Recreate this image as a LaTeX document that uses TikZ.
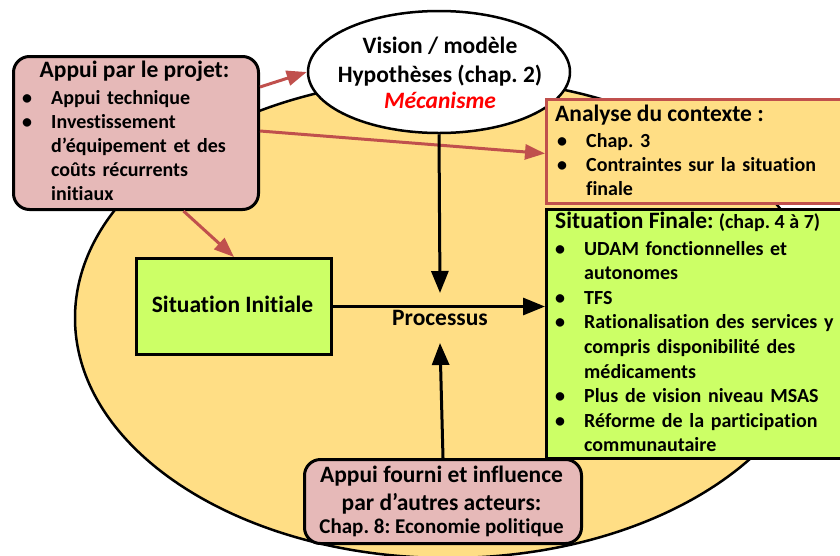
\documentclass[tikz,border=0pt]{standalone}
\usepackage{fontspec}
\setmainfont{Carlito}[Ligatures=NoCommon]
\frenchspacing
\usetikzlibrary{shapes.geometric,arrows.meta,calc}
\definecolor{sand}{HTML}{FFDE85}
\definecolor{rose}{HTML}{E6B9B8}
\definecolor{lime}{HTML}{CCFF66}
\definecolor{brick}{HTML}{C0504D}
% bullet and hanging indent for the lists
\newcommand\bul{\makebox[29pt][l]{•}}
\newcommand\ind{\hspace*{29pt}}

\begin{document}
\begin{tikzpicture}[x=1pt,y=-1pt,
  box/.style={draw=black, line width=3pt, inner sep=0pt, anchor=north west},
  ttl/.style={font=\fontsize{23.5}{28}\selectfont\bfseries, inner sep=0pt},
  lst/.style={font=\fontsize{20}{#1}\selectfont\bfseries, anchor=base west,
              align=left, text width=300pt, inner sep=0pt},
  lst/.default=24,
  redarrow/.style={draw=brick, line width=3pt, -{Triangle[length=20pt,width=15pt]}},
  blkarrow/.style={draw=black, line width=3pt, -{Triangle[length=22pt,width=17pt]}},
]
\useasboundingbox (0,0) rectangle (840,555);
\clip (0,0) rectangle (840,555);

% the surrounding field
\node[ellipse, draw, line width=2.5pt, fill=sand, inner sep=0pt,
      minimum width=746pt, minimum height=480pt] (field) at (448,318) {};

% vision / hypotheses
\node[ellipse, draw, line width=2.5pt, fill=white, inner sep=0pt,
      minimum width=262pt, minimum height=122pt] (vision) at (439,72) {};
\node[ttl, anchor=base] (vis1) at (440,53) {Vision / modèle};
\node[ttl, anchor=base] (vis2) at (440,82) {Hypothèses (chap. 2)};
\node[ttl, anchor=base, text=red] (vis3) at (440,108) {\itshape Mécanisme};

% project support
\node[box, fill=rose, rounded corners=16pt, minimum width=245pt, minimum height=153pt] (appui) at (12,55) {};
\node[ttl, anchor=base] (appuiT) at (134.5,77) {Appui par le projet:};
\node[lst] (appuiL) at (22,104) {\bul Appui technique\\\bul Investissement\\\ind d’équipement et des\\\ind coûts récurrents\\\ind initiaux};

% context analysis
\node[box, draw=brick, fill=sand, minimum width=310pt, minimum height=104pt] (analyse) at (545,98) {};
\node[ttl, anchor=base west] (analyseT) at (555,121) {Analyse du contexte :};
\node[lst] (analyseL) at (557,147) {\bul Chap. 3\\\bul Contraintes sur la situation\\\ind finale};

% final situation
\node[box, fill=lime, minimum width=310pt, minimum height=249pt] (final) at (545,208) {};
\node[ttl, anchor=base west] (finalT) at (555,228) {Situation Finale: {\fontsize{20}{24}\selectfont(chap. 4 à 7)}};
\node[lst=24.6] (finalL) at (555,255) {\bul UDAM fonctionnelles et\\\ind autonomes\\\bul TFS\\\bul Rationalisation des services y\\\ind compris disponibilité des\\\ind médicaments\\\bul Plus de vision niveau MSAS\\\bul Réforme de la participation\\\ind communautaire};

% initial situation
\node[box, fill=lime, minimum width=195pt, minimum height=96pt] (init) at (135,257) {};
\node[ttl, anchor=base] (initT) at (232.5,312) {Situation Initiale};

% other actors
\node[box, fill=rose, rounded corners=16pt, minimum width=277pt, minimum height=84pt] (fourni) at (303,458) {};
\node[ttl, anchor=base] (fourni1) at (441.5,482) {Appui fourni et influence};
\node[ttl, anchor=base] (fourni2) at (441.5,510) {par d’autres acteurs:};
\node[ttl, anchor=base, font=\fontsize{21}{24}\selectfont\bfseries] (fourni3) at (441.5,533) {Chap. 8: Economie politique};

% process
\node[ttl, anchor=base] (proc) at (440,325) {Processus};
\coordinate (downend) at (440,293);
\coordinate (upend) at (440,343);

% connectors
\draw[redarrow] ($(appui.north east)+(0,32)$) -- (vision.west);
\draw[redarrow] ($(appui.north east)+(0,76)$) -- ($(analyse.west)+(0,2)$);
\draw[redarrow] ($(appui.south)+(47.5,0)$) -- (init.north);
\draw[blkarrow] (init.east) -- (init.east -| final.west);
\draw[blkarrow] (vision.south) -- (downend);
\draw[blkarrow] (fourni.north) -- (upend);
\end{tikzpicture}
\end{document}
